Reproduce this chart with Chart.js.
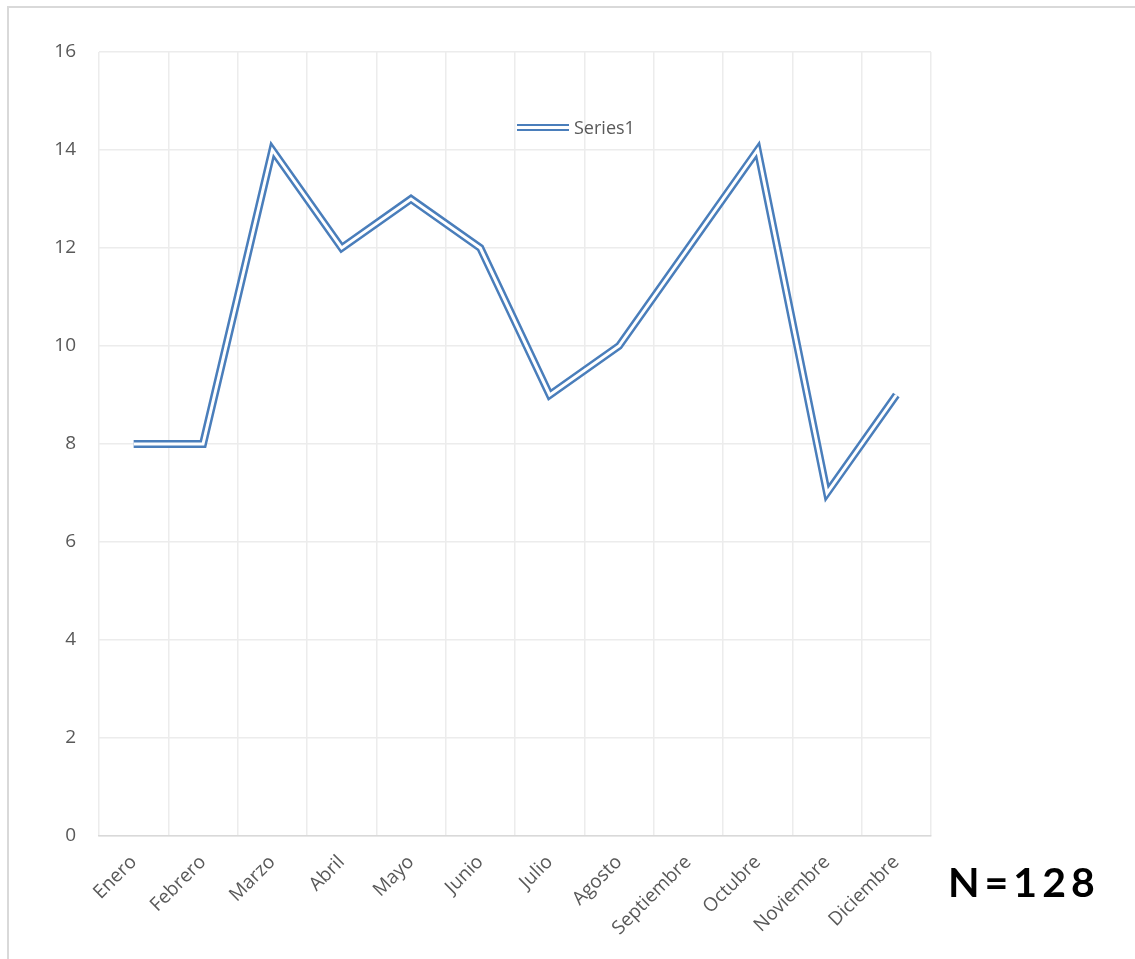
<!DOCTYPE html>
<html lang="es">
<head>
    <meta charset="utf-8" />
    <title>Series1 por mes</title>
    <script src="https://cdn.jsdelivr.net/npm/chart.js"></script>
    <style>
        html, body {
            margin: 0;
            padding: 0;
            background: #fff;
            overflow: hidden;
        }
        .wrap {
            position: relative;
            width: 1135px;
            height: 959px;
        }
        /* light frame around the chart, runs off the right/bottom edge like the original */
        .frame {
            position: absolute;
            left: 7px;
            top: 6px;
            width: 1200px;
            height: 1000px;
            border: 2px solid #d9d9d9;
            pointer-events: none;
        }
        .legend {
            position: absolute;
            left: 517px;
            top: 114px;
            height: 26px;
            display: flex;
            align-items: center;
            font-family: "Open Sans", Lato, sans-serif;
            font-size: 18px;
            color: #595959;
        }
        .legend .swatch {
            width: 52px;
            height: 3px;
            border-top: 2px solid #4a7ebb;
            border-bottom: 2px solid #4a7ebb;
            margin-right: 5px;
        }
        .n-label {
            position: absolute;
            left: 948px;
            top: 857px;
            font-family: Lato, "Open Sans", sans-serif;
            font-weight: bold;
            font-size: 41px;
            letter-spacing: 5px;
            color: #000;
        }
    </style>
</head>
<body>
<div class="wrap">
    <canvas id="monthChart" width="1135" height="959"></canvas>
    <div class="frame"></div>
    <div class="legend"><span class="swatch"></span><span id="legendText"></span></div>
    <div class="n-label" id="nLabel"></div>
</div>

<script>
    // data
    var months = ["Enero", "Febrero", "Marzo", "Abril", "Mayo", "Junio", "Julio", "Agosto", "Septiembre", "Octubre", "Noviembre", "Diciembre"];
    var seriesValues = [8, 8, 14, 12, 13, 12, 9, 10, 12, 14, 7, 9];
    var seriesName = "Series1";
    var yTicks = [0, 2, 4, 6, 8, 10, 12, 14, 16];
    var sampleSize = 128;

    document.getElementById('legendText').textContent = seriesName;
    document.getElementById('nLabel').textContent = 'N=' + sampleSize;

    var lineBlue = '#4a7ebb';
    var tickFont = { family: '"Open Sans", Lato, sans-serif', size: 19 };

    var ctx = document.getElementById('monthChart').getContext('2d');
    var monthChart = new Chart(ctx, {
        type: 'line',
        data: {
            labels: months,
            datasets: [
                {
                    // outer blue stroke (drawn first)
                    label: seriesName,
                    data: seriesValues,
                    order: 1,
                    borderColor: lineBlue,
                    borderWidth: 8,
                    borderJoinStyle: 'miter',
                    pointRadius: 0,
                    tension: 0,
                    fill: false
                },
                {
                    // white core on top -> double line look
                    label: seriesName + ' core',
                    data: seriesValues,
                    order: 0,
                    borderColor: '#ffffff',
                    borderWidth: 3,
                    borderJoinStyle: 'miter',
                    pointRadius: 0,
                    tension: 0,
                    fill: false
                }
            ]
        },
        options: {
            responsive: false,
            animation: false,
            layout: {
                padding: { left: 0, top: 52, right: 204, bottom: 0 }
            },
            plugins: {
                legend: { display: false },
                tooltip: { enabled: false }
            },
            scales: {
                x: {
                    offset: true,
                    grid: {
                        offset: true,
                        color: '#ececec',
                        lineWidth: 1.5,
                        drawTicks: false
                    },
                    border: { display: true, color: '#d9d9d9', width: 1.5 },
                    ticks: {
                        color: '#595959',
                        font: tickFont,
                        minRotation: 45,
                        maxRotation: 45,
                        padding: 15,
                        autoSkip: false
                    },
                    afterFit: function (scale) { scale.height = 123; }
                },
                y: {
                    min: 0,
                    max: 16,
                    afterBuildTicks: function (scale) {
                        scale.ticks = yTicks.map(function (v) { return { value: v }; });
                    },
                    grid: {
                        color: '#ececec',
                        lineWidth: 1.5,
                        drawTicks: false
                    },
                    border: { display: false },
                    ticks: {
                        color: '#595959',
                        font: tickFont,
                        padding: 23
                    },
                    afterFit: function (scale) { scale.width = 99; }
                }
            }
        }
    });
</script>
</body>
</html>
